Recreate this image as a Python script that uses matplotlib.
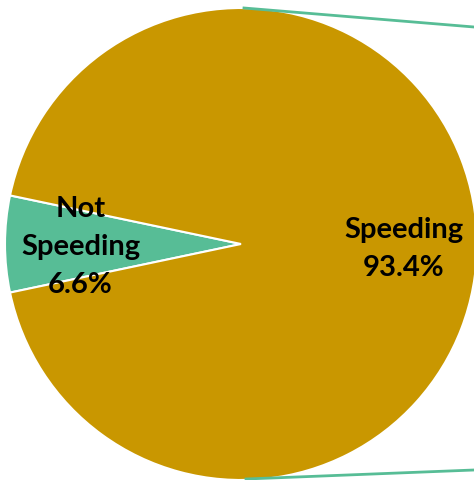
import matplotlib
matplotlib.use("Agg")
import matplotlib.pyplot as plt
import numpy as np

categories = ["Not\nSpeeding", "Speeding"]
values = [6.6, 93.4]
colors = ["#57BD96", "#C99700"]

W, H = 474, 481
fig = plt.figure(figsize=(W / 100, H / 100), dpi=100)
ax = fig.add_axes([0, 0, 1, 1])

cx, cy, r = 241, 236, 236
start = 180 - values[0] * 3.6 / 2
wedges, _ = ax.pie(values, colors=colors, startangle=start, counterclock=True,
                   radius=r, center=(cx, cy),
                   wedgeprops=dict(edgecolor="white", linewidth=1.5))

# label positions
angles = []
a = start
for v in values:
    angles.append(a + v * 3.6 / 2)
    a += v * 3.6
dist = [0.68, 0.69]
offs = [-2, -4]
for name, v, ang, d, o in zip(categories, values, angles, dist, offs):
    x = cx + d * r * np.cos(np.radians(ang))
    y = cy + d * r * np.sin(np.radians(ang))
    ax.text(x, y + o, f"{name}\n{v:.1f}%", ha="center", va="center",
            fontsize=21, fontweight="bold", family="Lato",
            linespacing=1.55, color="black")

# connector lines to secondary chart (off to the right)
ax.plot([cx + 3, W], [cy + r, cy + r - 19], color="#57BD96", lw=2, clip_on=False)
ax.plot([cx + 5, W], [cy - r + 1, cy - r + 10], color="#57BD96", lw=2, clip_on=False)

ax.set_xlim(0, W)
ax.set_ylim(0, H)
ax.set_aspect("auto")
ax.axis("off")
fig.savefig("out.png", dpi=100, facecolor="white")
